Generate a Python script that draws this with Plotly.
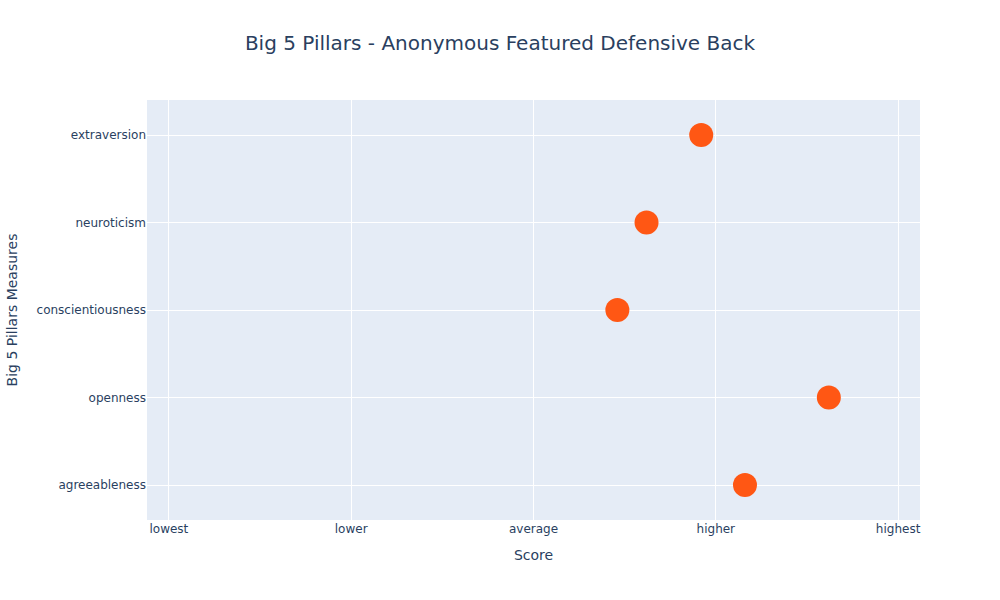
import plotly.graph_objects as go

measures = ["agreeableness", "openness", "conscientiousness", "neuroticism", "extraversion"]
scores = [4.16, 4.62, 3.46, 3.62, 3.92]
tick_vals = [1, 2, 3, 4, 5]
tick_text = ["lowest", "lower", "average", "higher", "highest"]

fig = go.Figure(
    go.Scatter(
        x=scores,
        y=measures,
        mode="markers",
        marker=dict(size=24, color="#FF5714"),
    )
)

fig.update_layout(
    width=1000,
    height=600,
    font=dict(family="DejaVu Sans"),
    title=dict(text="Big 5 Pillars - Anonymous Featured Defensive Back", x=0.5, font=dict(size=20)),
    xaxis=dict(title="Score", tickvals=tick_vals, ticktext=tick_text, range=[0.88, 5.12]),
    yaxis=dict(title="Big 5 Pillars Measures", categoryorder="array", categoryarray=measures, range=[-0.4, 4.4]),
)

fig.write_html("out.html")
